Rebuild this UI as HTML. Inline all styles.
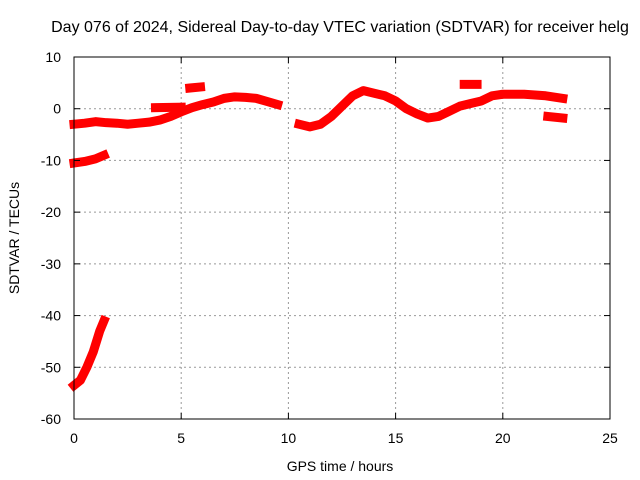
<!DOCTYPE html>
<html><head><meta charset="utf-8"><style>
body{margin:0;background:#fff}
svg{display:block;font-family:"Liberation Sans",sans-serif;font-size:14px}
</style></head><body>
<svg id="c" width="640" height="480">
<text x="340" y="32" text-anchor="middle" style="font-size:16px">Day 076 of 2024, Sidereal Day-to-day VTEC variation (SDTVAR) for receiver helg</text>
<g id="grid"></g>
<g id="marks"></g>
<rect x="74" y="57" width="536" height="362" fill="none" stroke="#000"/>
<g id="ticks"></g>
<text x="340" y="471" text-anchor="middle">GPS time / hours</text>
<text transform="translate(19,238) rotate(-90)" text-anchor="middle">SDTVAR / TECUs</text>
</svg>
<script>
const xTicks=[0,5,10,15,20,25];
const yTicks=[10,0,-10,-20,-30,-40,-50,-60];
const bandHours=[0,0.5,1,1.5,2,2.5,3,3.5,4,4.5,5,5.5,6,6.5,7,7.5,8,8.5,9,9.5];
const bandValues=[-3,-2.8,-2.5,-2.7,-2.8,-3,-2.8,-2.6,-2.2,-1.5,-0.6,0.2,0.8,1.3,2,2.3,2.2,2,1.4,0.8];
const band2Hours=[10.5,11,11.5,12,12.5,13,13.5,14,14.5,15,15.5,16,16.5,17,17.5,18,18.5,19,19.5,20,21,22,22.8];
const band2Values=[-3,-3.5,-3,-1.5,0.5,2.5,3.5,3,2.5,1.5,0,-1,-1.8,-1.5,-0.5,0.5,1,1.5,2.5,2.8,2.8,2.5,2];
const flatHours=[3.8,5];const flatValues=[0.2,0.3];
const blobHours=[5.4,5.9];const blobValues=[4,4.2];
const blob2Hours=[18.2,18.8];const blob2Values=[4.7,4.7];
const lowHours=[22.1,22.8];const lowValues=[-1.5,-1.8];
const lineHours=[0,0.5,1,1.4];const lineValues=[-10.5,-10.2,-9.7,-9];
const curveHours=[0,0.3,0.6,0.9,1.2,1.4];const curveValues=[-53.5,-52.5,-50,-47,-43,-41];
const X=h=>74+h*536/25, Y=v=>57+(10-v)*362/70;
const ns="http://www.w3.org/2000/svg";
const g=document.getElementById('grid'),t=document.getElementById('ticks'),m=document.getElementById('marks');
function mk(tag,a,p){const e=document.createElementNS(ns,tag);for(const k in a)e.setAttribute(k,a[k]);p.appendChild(e);return e;}
xTicks.forEach(h=>{
 if(h>0&&h<25){const l=mk('line',{x1:X(h),x2:X(h),y1:57,y2:419,stroke:'#999','stroke-dasharray':'2,3'},g);
 
 }
 mk('line',{x1:X(h),x2:X(h),y1:419,y2:413,stroke:'#000'},t);mk('line',{x1:X(h),x2:X(h),y1:57,y2:63,stroke:'#000'},t);
 const tx=mk('text',{x:X(h),y:443,'text-anchor':'middle'},t);tx.textContent=h;
 
 
});
yTicks.forEach(v=>{
 if(v<10&&v>-60){const l=mk('line',{x1:74,x2:610,y1:Y(v),y2:Y(v),stroke:'#999','stroke-dasharray':'2,3'},g);
 
 }
 mk('line',{x1:74,x2:80,y1:Y(v),y2:Y(v),stroke:'#000'},t);mk('line',{x1:604,x2:610,y1:Y(v),y2:Y(v),stroke:'#000'},t);
 const tx=mk('text',{x:61,y:Y(v)+5,'text-anchor':'end'},t);tx.textContent=v;
 
 
});
[[bandHours,bandValues],[band2Hours,band2Values],[flatHours,flatValues],[blobHours,blobValues],[blob2Hours,blob2Values],[lowHours,lowValues],[lineHours,lineValues],[curveHours,curveValues]].forEach(([hs,vs])=>{
 const p=mk('polyline',{points:hs.map((h,i)=>X(h)+','+Y(vs[i])).join(' '),fill:'none',stroke:'#f00','stroke-width':9,'stroke-linejoin':'round','stroke-linecap':'square'},m);
 
 
});
</script>
</body></html>
